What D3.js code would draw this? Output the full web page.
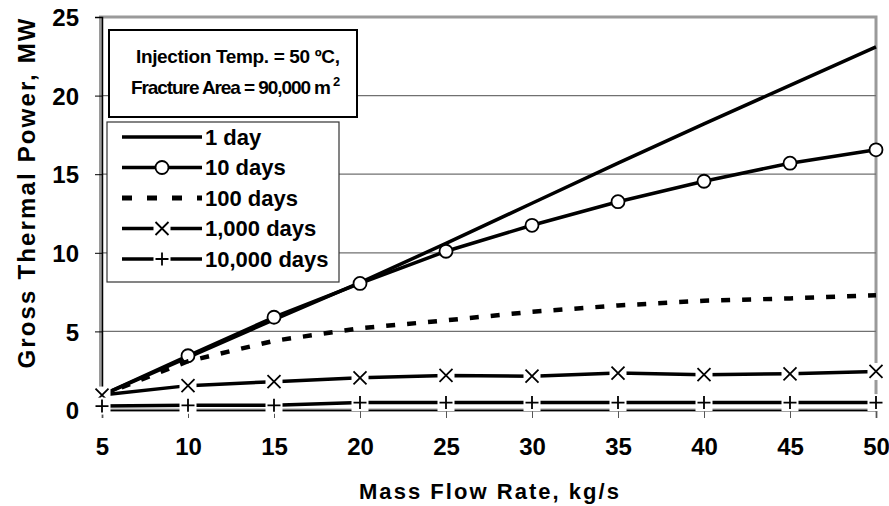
<!DOCTYPE html>
<html>
<head>
<meta charset="utf-8">
<script src="https://cdn.jsdelivr.net/npm/d3@7"></script>
<style>
  body { margin: 0; background: #fff; }
  text { font-family: "Liberation Sans", Arial, sans-serif; font-weight: bold; fill: #000; }
</style>
</head>
<body>
<div id="chart"></div>
<script>
const WIDTH = 889;
const HEIGHT = 506;

// data
const flowRate = [5, 10, 15, 20, 25, 30, 35, 40, 45, 50];
const day1 = [0.95, 3.35, 5.75, 8.1, 10.6, 13.15, 15.7, 18.2, 20.65, 23.1];
const day10 = [0.95, 3.45, 5.9, 8.05, 10.1, 11.75, 13.25, 14.55, 15.7, 16.55];
const day100 = [0.95, 3.1, 4.4, 5.2, 5.7, 6.25, 6.65, 6.95, 7.1, 7.3];
const day1000 = [0.95, 1.55, 1.8, 2.05, 2.2, 2.15, 2.35, 2.25, 2.3, 2.45];
const day10000 = [0.25, 0.3, 0.3, 0.47, 0.47, 0.47, 0.47, 0.47, 0.47, 0.47];

const seriesNames = ["1 day", "10 days", "100 days", "1,000 days", "10,000 days"];
const seriesValues = [day1, day10, day100, day1000, day10000];
const seriesMarkers = ["none", "circle", "none", "cross", "plus"];
const seriesDash = [null, null, "9,12", null, null];

const yTicks = [0, 5, 10, 15, 20, 25];
const xTicks = [5, 10, 15, 20, 25, 30, 35, 40, 45, 50];
const noteLines = ["Injection Temp. = 50 ºC,", "Fracture Area = 90,000 m"];

const margin = { top: 17, right: 13, bottom: 96, left: 102 };
const width = WIDTH - margin.left - margin.right;
const height = HEIGHT - margin.top - margin.bottom;

const svg = d3.select("#chart")
  .append("svg")
  .attr("width", WIDTH)
  .attr("height", HEIGHT);

const x = d3.scaleLinear().domain([5, 50]).range([margin.left, margin.left + width]);
const y = d3.scaleLinear().domain([0, 25]).range([margin.top + height, margin.top]);

// plot area border (grey, like Excel)
svg.append("rect")
  .attr("x", x(5) - 1.5)
  .attr("y", y(25))
  .attr("width", x(50) - x(5) + 1.5)
  .attr("height", y(0) - y(25))
  .attr("fill", "none")
  .attr("stroke", "#9a9a9a")
  .attr("stroke-width", 3);

// gridlines
svg.selectAll("gridLines")
  .data(yTicks.filter(d => d > 0 && d < 25))
  .enter()
  .append("line")
  .attr("x1", x(5))
  .attr("x2", x(50))
  .attr("y1", d => y(d))
  .attr("y2", d => y(d))
  .attr("stroke", "#707070")
  .attr("stroke-width", 1.2);

// Y axis
const yAxis = svg.append("g")
  .attr("transform", `translate(${x(5)},0)`)
  .call(d3.axisLeft(y).tickValues(yTicks).tickSize(7).tickPadding(16).tickFormat(d3.format("d")));
yAxis.select(".domain").attr("stroke", "#000").attr("stroke-width", 1.5);
yAxis.selectAll(".tick line").attr("stroke", "#000");
yAxis.selectAll(".tick text").style("font-size", "24px").attr("dy", "0.36em");

// X axis
const xAxis = svg.append("g")
  .attr("transform", `translate(0,${y(0)})`)
  .call(d3.axisBottom(x).tickValues(xTicks).tickSize(8).tickPadding(20).tickFormat(d3.format("d")));
xAxis.select(".domain").attr("stroke", "#000").attr("stroke-width", 1.5);
xAxis.selectAll(".tick line").attr("stroke", "#555");
xAxis.selectAll(".tick text").style("font-size", "24px");

// axis titles
svg.append("text")
  .attr("x", x(27.5))
  .attr("y", 499)
  .attr("text-anchor", "middle")
  .attr("textLength", 260)
  .style("font-size", "22px")
  .text("Mass Flow Rate, kg/s");

svg.append("text")
  .attr("transform", `translate(35, ${(y(0) + y(25)) / 2 - 20}) rotate(-90)`)
  .attr("text-anchor", "middle")
  .attr("textLength", 350)
  .style("font-size", "24px")
  .text("Gross Thermal Power, MW");

// draw a marker with a white backing, so it breaks the lines under it
function drawMarker(g, type, cx, cy) {
  if (type === "none") return;
  if (type === "circle") {
    g.append("circle")
      .attr("cx", cx).attr("cy", cy).attr("r", 6.5)
      .attr("fill", "#fff").attr("stroke", "#000").attr("stroke-width", 1.8);
    return;
  }
  g.append("rect")
    .attr("x", cx - 8.5).attr("y", cy - 8.5)
    .attr("width", 17).attr("height", 17)
    .attr("fill", "#fff");
  const s = 6.5;
  let path;
  if (type === "cross") {
    path = `M${cx - s},${cy - s}L${cx + s},${cy + s}M${cx - s},${cy + s}L${cx + s},${cy - s}`;
  } else {
    path = `M${cx - s},${cy}L${cx + s},${cy}M${cx},${cy - s}L${cx},${cy + s}`;
  }
  g.append("path").attr("d", path).attr("stroke", "#000").attr("stroke-width", 1.8).attr("fill", "none");
}

const line = d3.line()
  .x(d => x(d[0]))
  .y(d => y(d[1]));

// series
seriesValues.forEach((vals, i) => {
  const g = svg.append("g");
  const pts = flowRate.map((f, j) => [f, vals[j]]);
  g.append("path")
    .datum(pts)
    .attr("d", line)
    .attr("fill", "none")
    .attr("stroke", "#000")
    .attr("stroke-width", seriesDash[i] ? 4.5 : 3.5)
    .attr("stroke-dasharray", seriesDash[i])
    .attr("stroke-linejoin", "round");
  pts.forEach(p => drawMarker(g, seriesMarkers[i], x(p[0]), y(p[1])));
});

// note box
svg.append("rect")
  .attr("x", 109).attr("y", 30)
  .attr("width", 248).attr("height", 87)
  .attr("fill", "#fff")
  .attr("stroke", "#000")
  .attr("stroke-width", 2);

svg.append("text")
  .attr("x", 238).attr("y", 63)
  .attr("text-anchor", "middle")
  .attr("textLength", 204)
  .style("font-size", "19px")
  .text(noteLines[0]);

const note2 = svg.append("text")
  .attr("x", 131).attr("y", 94)
  .style("font-size", "19px");
note2.append("tspan")
  .attr("textLength", 200)
  .text(noteLines[1]);
note2.append("tspan")
  .attr("dy", -8)
  .attr("dx", 3)
  .style("font-size", "13px")
  .text("2");

// legend
const legend = svg.append("g");
legend.append("rect")
  .attr("x", 107).attr("y", 122)
  .attr("width", 232).attr("height", 160)
  .attr("fill", "#fff")
  .attr("stroke", "#333")
  .attr("stroke-width", 1.2);

seriesNames.forEach((name, i) => {
  const ly = 137 + i * 30.5;
  legend.append("line")
    .attr("x1", 122).attr("x2", 202)
    .attr("y1", ly).attr("y2", ly)
    .attr("stroke", "#000")
    .attr("stroke-width", seriesDash[i] ? 5 : 3.5)
    .attr("stroke-dasharray", seriesDash[i] ? "10,15" : null);
  drawMarker(legend, seriesMarkers[i], 162, ly);
  legend.append("text")
    .attr("x", 205).attr("y", ly)
    .attr("dy", "0.36em")
    .style("font-size", "22px")
    .text(name);
});
</script>
</body>
</html>
